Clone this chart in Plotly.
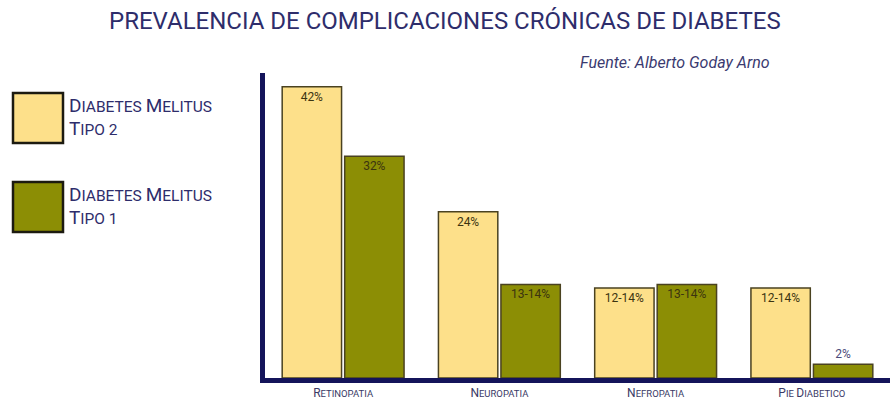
import plotly.graph_objects as go

# Complications and prevalence values (percent) with their printed labels
categories = ["Retinopatia", "Neuropatia", "Nefropatia", "Pie Diabetico"]
tick_labels = [
    "R<span style='font-size:9.5px'>ETINOPATIA</span>",
    "N<span style='font-size:9.5px'>EUROPATIA</span>",
    "N<span style='font-size:9.5px'>EFROPATIA</span>",
    "P<span style='font-size:9.5px'>IE </span>D<span style='font-size:9.5px'>IABETICO</span>",
]
tipo2_values = [42, 24, 13, 13]
tipo2_labels = ["42%", "24%", "12-14%", "12-14%"]
tipo1_values = [32, 13.5, 13.5, 2]
tipo1_labels = ["32%", "13-14%", "13-14%", "2%"]

series_names = ["Diabetes Melitus Tipo 2", "Diabetes Melitus Tipo 1"]
legend_line1 = "D<span style='font-size:15.5px'>IABETES </span>M<span style='font-size:15.5px'>ELITUS</span>"
legend_line2 = [
    "T<span style='font-size:15.5px'>IPO 2</span>",
    "T<span style='font-size:15.5px'>IPO 1</span>",
]

COLOR_T2 = "#fde08a"
COLOR_T1 = "#8c8e05"
EDGE = "#4a4220"
NAVY = "#14145a"
TEXT_NAVY = "#2e2d6b"
FONT = "Roboto, sans-serif"


def text_positions(values):
    return ["outside" if v < 5 else "inside" for v in values]


fig = go.Figure()
for name, vals, labs, color in [
    (series_names[0], tipo2_values, tipo2_labels, COLOR_T2),
    (series_names[1], tipo1_values, tipo1_labels, COLOR_T1),
]:
    fig.add_trace(go.Bar(
        name=name,
        x=categories,
        y=vals,
        text=labs,
        textposition=text_positions(vals),
        insidetextanchor="end",
        constraintext="none",
        textangle=0,
        insidetextfont=dict(family=FONT, size=12, color="#3b3410"),
        outsidetextfont=dict(family=FONT, size=12, color="#4a4a78"),
        marker=dict(color=color, line=dict(color=EDGE, width=1.5)),
        cliponaxis=False,
        showlegend=False,
    ))

fig.update_layout(
    width=890,
    height=411,
    margin=dict(l=265, r=0, t=73, b=33),
    paper_bgcolor="white",
    plot_bgcolor="white",
    barmode="group",
    bargap=0.2,
    bargroupgap=0.05,
    font=dict(family=FONT, color=TEXT_NAVY),
    xaxis=dict(
        tickmode="array",
        tickvals=categories,
        ticktext=tick_labels,
        tickfont=dict(family=FONT, size=12, color="#3a3a66"),
        showline=True,
        linecolor=NAVY,
        linewidth=5,
        showgrid=False,
        ticks="",
        fixedrange=True,
    ),
    yaxis=dict(
        range=[0, 44],
        showline=True,
        linecolor=NAVY,
        linewidth=5,
        showgrid=False,
        zeroline=False,
        showticklabels=False,
        ticks="",
        fixedrange=True,
    ),
)

PLOT_W = 890 - 265
PLOT_H = 411 - 73 - 33


def px_x(x):
    return (x - 265) / PLOT_W


def px_y(y):
    return 1 - (y - 73) / PLOT_H


# Title and source line
fig.add_annotation(
    text="PREVALENCIA DE COMPLICACIONES CRÓNICAS DE DIABETES",
    xref="paper", yref="paper", x=px_x(445), y=px_y(21),
    xanchor="center", yanchor="middle", showarrow=False,
    font=dict(family=FONT, size=24, color=TEXT_NAVY),
)
fig.add_annotation(
    text="<i>Fuente: Alberto Goday Arno</i>",
    xref="paper", yref="paper", x=px_x(772), y=px_y(62),
    xanchor="right", yanchor="middle", showarrow=False,
    font=dict(family=FONT, size=16, color="#3a3a70"),
)

# Legend swatches and labels on the left
for i, (color, line2) in enumerate(zip([COLOR_T2, COLOR_T1], legend_line2)):
    top = 93 + i * 89
    fig.add_shape(
        type="rect", xref="paper", yref="paper",
        x0=px_x(13), x1=px_x(63),
        y0=px_y(top + 50), y1=px_y(top),
        fillcolor=color, line=dict(color="#1c1a10", width=2.5),
    )
    for text, yc in [(legend_line1, top + 12), (line2, top + 35)]:
        fig.add_annotation(
            text=text, xref="paper", yref="paper",
            x=px_x(67), y=px_y(yc),
            xanchor="left", yanchor="middle", align="left", showarrow=False,
            font=dict(family=FONT, size=19, color=TEXT_NAVY),
        )

fig.write_html("out.html")
